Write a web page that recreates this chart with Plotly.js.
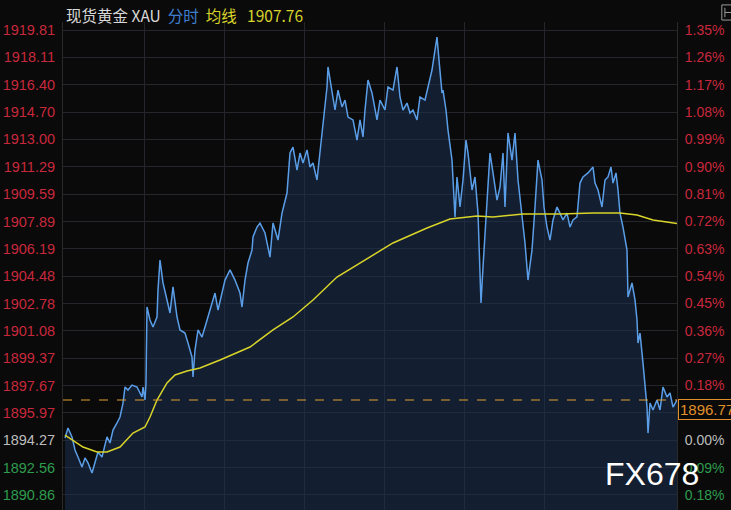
<!DOCTYPE html>
<html><head><meta charset="utf-8">
<script src="https://cdn.plot.ly/plotly-3.0.1.min.js"></script>
<style>html,body{margin:0;padding:0;background:#0a0a0a;overflow:hidden}#chart{width:731px;height:510px}</style>
</head><body><div id="chart"></div>
<script>
// minute index along the session
const priceTimes = [1,4,8,11,14,18,21,24,28,31,34,38,43,46,49,53,56,59,61,64,68,73,78,79,81,82,83,86,89,93,94,96,99,103,106,109,113,116,121,124,128,129,131,134,138,141,144,148,151,154,158,161,166,171,176,178,181,184,188,189,193,196,201,206,209,214,218,223,226,229,233,236,239,243,246,249,253,256,259,263,264,268,271,274,278,281,284,289,293,296,299,301,304,308,313,316,321,324,329,333,336,339,343,346,349,353,356,361,364,368,371,373,375,378,379,382,384,388,391,393,396,399,402,404,408,411,414,417,419,423,426,429,433,436,439,441,444,448,451,454,458,461,464,468,471,474,478,480,483,486,489,493,496,499,503,506,509,513,516,519,524,529,531,534,538,541,544,547,549,552,554,556,559,563,564,568,571,573,574,576,579,581,583,584,586,589,593,596,599,603,606,609,613];
const prices = [1894.40,1895.03,1894.47,1893.66,1893.22,1892.60,1893.16,1892.85,1892.22,1892.85,1893.53,1893.22,1894.47,1894.09,1894.90,1895.34,1895.71,1896.58,1897.58,1897.39,1897.70,1897.58,1896.96,1897.58,1896.77,1897.83,1902.56,1901.75,1901.32,1901.94,1903.62,1905.49,1904.06,1903.00,1902.19,1903.81,1901.94,1901.13,1900.94,1900.32,1899.45,1898.20,1899.88,1901.13,1900.69,1901.32,1901.94,1902.81,1903.43,1902.37,1903.43,1904.24,1904.87,1904.24,1903.43,1902.56,1904.24,1905.30,1906.11,1906.92,1907.54,1907.79,1907.17,1905.67,1907.79,1906.73,1908.41,1909.66,1912.15,1912.52,1911.09,1912.15,1911.53,1912.34,1911.28,1911.53,1910.47,1912.15,1914.21,1916.26,1917.51,1915.89,1914.83,1916.07,1915.02,1915.45,1914.39,1914.21,1912.96,1914.21,1913.15,1914.83,1916.70,1915.89,1914.21,1915.45,1914.83,1916.26,1916.07,1917.51,1915.64,1914.83,1915.26,1914.64,1914.83,1914.21,1915.64,1915.45,1916.26,1917.32,1918.56,1919.37,1917.94,1915.89,1916.07,1914.83,1913.58,1911.71,1908.17,1910.66,1908.79,1910.47,1912.96,1912.15,1909.85,1910.66,1908.41,1902.81,1905.05,1908.79,1912.15,1910.91,1909.22,1910.03,1912.15,1908.79,1913.40,1911.71,1913.40,1910.47,1908.17,1906.55,1904.24,1906.11,1908.79,1911.71,1910.47,1908.79,1907.54,1906.73,1907.98,1908.79,1908.41,1907.98,1908.41,1907.54,1907.98,1908.17,1910.28,1910.66,1910.91,1911.28,1910.28,1909.85,1908.79,1910.47,1910.66,1911.28,1910.28,1910.91,1909.85,1908.41,1907.54,1906.11,1903.18,1904.06,1903.00,1901.75,1900.32,1900.94,1899.07,1897.58,1896.33,1894.71,1896.58,1896.15,1896.77,1896.15,1897.58,1896.96,1897.21,1896.33,1896.77];
const avgTimes = [1,9,19,33,43,56,69,81,86,93,103,111,123,136,156,186,209,229,249,273,289,306,329,363,386,413,429,459,496,529,556,573,589,613];
const avgPrices = [1894.59,1894.28,1893.84,1893.53,1893.53,1893.84,1894.71,1895.09,1895.71,1896.77,1897.83,1898.33,1898.58,1898.76,1899.26,1900.07,1901.13,1901.94,1903.00,1904.43,1905.05,1905.67,1906.55,1907.48,1908.04,1908.23,1908.17,1908.35,1908.35,1908.41,1908.41,1908.29,1907.98,1907.76];
const priceTicks = [1919.81,1918.11,1916.40,1914.70,1913.00,1911.29,1909.59,1907.89,1906.19,1904.48,1902.78,1901.08,1899.37,1897.67,1895.97,1894.27,1892.56,1890.86];
const pctLabels = ['1.35%','1.26%','1.17%','1.08%','0.99%','0.90%','0.81%','0.72%','0.63%','0.54%','0.45%','0.36%','0.27%','0.18%','','0.00%','0.09%','0.18%'];
const prevClose = 1894.27;
const lastPrice = 1896.77;
const avgLast = 1907.76;
const timeGrid = [0,80,160,240,320,400,480];

const RED='#c8283c', GREY='#bdbdbd', GREEN='#2e9b4e';
function col(v){ return Math.abs(v-prevClose)<0.005 ? GREY : (v>prevClose ? RED : GREEN); }
const leftText = priceTicks.map(v=>`<span style="color:${col(v)}">${v.toFixed(2)}</span>`);
const rightText = priceTicks.map((v,i)=>`<span style="color:${col(v)}">${pctLabels[i]}</span>`);

const yr = [1889.92, 1920.31];
const traces = [
 {x:priceTimes, y:prices, type:'scatter', mode:'lines', line:{color:'#5b9ee8', width:1.5},
  fill:'tozeroy', fillcolor:'rgba(28,48,80,0.55)', hoverinfo:'skip'},
 {x:avgTimes, y:avgPrices, type:'scatter', mode:'lines', line:{color:'#d8d42a', width:1.5}, hoverinfo:'skip'},
 {x:[0], y:[lastPrice], yaxis:'y2', type:'scatter', mode:'markers', marker:{opacity:0}, hoverinfo:'skip'}
];
const layout = {
 width:731, height:510, showlegend:false,
 paper_bgcolor:'#0a0a0a', plot_bgcolor:'#0a0a0a',
 margin:{l:63, r:54, t:22, b:0},
 xaxis:{range:[-1,613], tickvals:timeGrid, showticklabels:false, showgrid:true, gridcolor:'#24262b', zeroline:false,
        showline:false, ticks:''},
 yaxis:{range:yr, tickvals:priceTicks, ticktext:leftText, showgrid:true, gridcolor:'#24262b', zeroline:false,
        tickfont:{family:'Liberation Sans, Arial', size:14.5}, ticks:'', showline:true, linecolor:'#2a2a2a', ticklabelstandoff:4},
 yaxis2:{range:yr, overlaying:'y', side:'right', tickvals:priceTicks, ticktext:rightText, showgrid:false, zeroline:false,
        tickfont:{family:'Liberation Sans, Arial', size:14}, ticks:'', showline:true, linecolor:'#2a2a2a', ticklabelstandoff:4},
 shapes:[
  {type:'line', xref:'paper', x0:0, x1:1, yref:'y', y0:lastPrice, y1:lastPrice, line:{color:'#e0a030', width:1, dash:'dash'}},
  {type:'rect', xref:'paper', yref:'paper', x0:1.073, x1:1.092, y0:1.004, y1:1.035, line:{color:'#9a9a9a', width:1}},
  {type:'line', xref:'paper', yref:'paper', x0:1.078, x1:1.092, y0:1.0195, y1:1.0195, line:{color:'#9a9a9a', width:1}},
  {type:'line', xref:'paper', yref:'paper', x0:1.078, x1:1.078, y0:1.01, y1:1.029, line:{color:'#9a9a9a', width:1}}
 ],
 annotations:[
  {xref:'paper', yref:'paper', x:0.002, y:1.014, xanchor:'left', yanchor:'middle', showarrow:false,
   font:{family:'Noto Sans CJK SC', size:15.5, color:'#d8d8d8'},
   text:`现货黄金 XAU  <span style="color:#3f7fcf">分时</span>  <span style="color:#d8d42a">均线</span>   <span style="color:#d8d42a">${avgLast.toFixed(2)}</span>`},
  {xref:'paper', yref:'y', x:1.002, y:lastPrice, xanchor:'left', yanchor:'middle', yshift:-9, showarrow:false,
   text:lastPrice.toFixed(2), font:{family:'Liberation Sans, Arial', size:15, color:'#e0902a'},
   bordercolor:'#e0902a', borderwidth:1, borderpad:1, bgcolor:'#0a0a0a'},
  {xref:'paper', yref:'paper', x:0.959, y:0.074, xanchor:'center', yanchor:'middle', showarrow:false,
   text:'FX678', font:{family:'Liberation Sans, Arial', size:32, color:'#ffffff'}}
 ]
};
Plotly.newPlot('chart', traces, layout, {staticPlot:true, displayModeBar:false});
</script></body></html>
